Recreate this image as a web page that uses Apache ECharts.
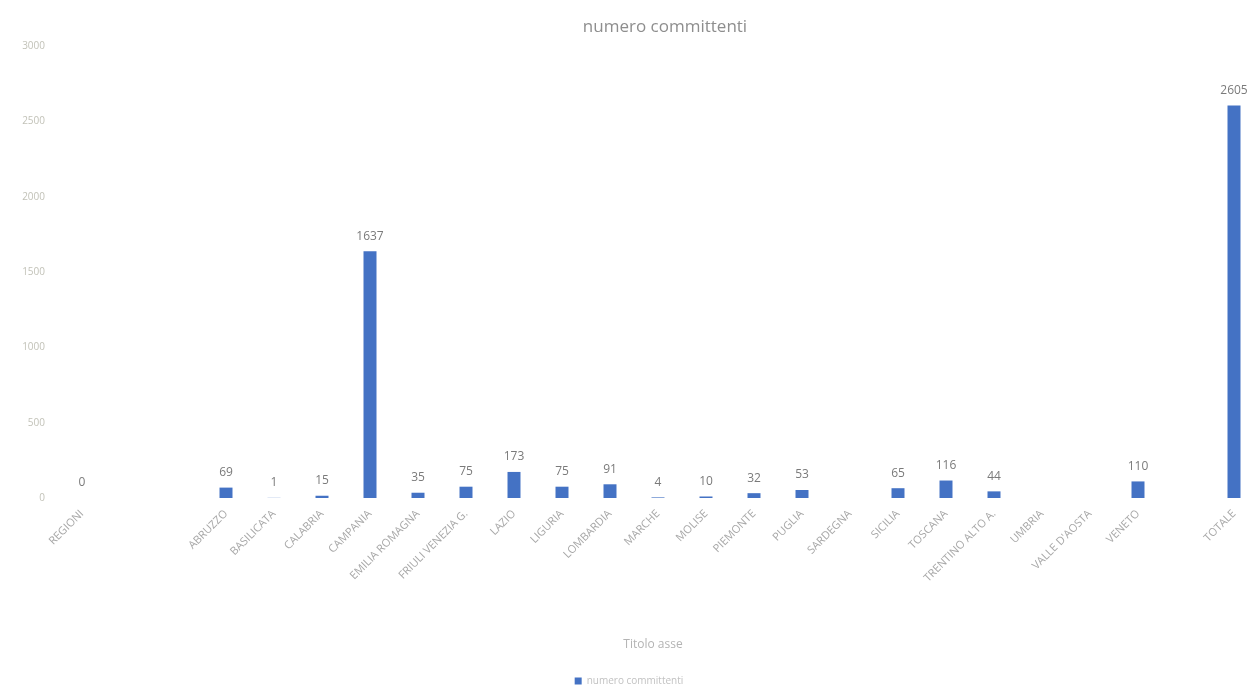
<!DOCTYPE html>
<html>
<head>
<meta charset="utf-8">
<script src="https://cdn.jsdelivr.net/npm/echarts@6/dist/echarts.min.js"></script>
<style>
  html, body { margin: 0; padding: 0; background: #ffffff; }
  #chart { width: 1258px; height: 692px; }
</style>
</head>
<body>
<div id="chart"></div>
<script>
// Regions (empty slots are blank rows in the source table)
const categories = [
  'REGIONI', '', '',
  'ABRUZZO', 'BASILICATA', 'CALABRIA', 'CAMPANIA', 'EMILIA ROMAGNA',
  'FRIULI VENEZIA G.', 'LAZIO', 'LIGURIA', 'LOMBARDIA', 'MARCHE',
  'MOLISE', 'PIEMONTE', 'PUGLIA', 'SARDEGNA', 'SICILIA',
  'TOSCANA', 'TRENTINO ALTO A.', 'UMBRIA', "VALLE D'AOSTA", 'VENETO',
  '', 'TOTALE'
];

// Number of clients per region (null = empty cell)
const committenti = [
  0, null, null,
  69, 1, 15, 1637, 35,
  75, 173, 75, 91, 4,
  10, 32, 53, null, 65,
  116, 44, null, null, 110,
  null, 2605
];

const yTicks = { min: 0, max: 3000, step: 500 };

const chart = echarts.init(document.getElementById('chart'));
chart.setOption({
  backgroundColor: '#ffffff',
  textStyle: { fontFamily: 'Open Sans, sans-serif' },
  title: {
    text: 'numero committenti',
    left: 660,
    top: 14,
    textAlign: 'center',
    textStyle: { color: '#8e8e8e', fontSize: 17, fontWeight: 'normal', fontFamily: 'Open Sans, sans-serif' }
  },
  legend: {
    data: ['numero committenti'],
    left: 'center',
    bottom: 1,
    itemWidth: 7,
    itemHeight: 7,
    icon: 'rect',
    textStyle: { color: '#c2c2c2', fontSize: 10 }
  },
  grid: { left: 58, top: 46, width: 1206, bottom: 194, containLabel: false },
  xAxis: {
    type: 'category',
    data: categories,
    name: 'Titolo asse',
    nameLocation: 'middle',
    nameGap: 141,
    nameTextStyle: { color: '#b4b4b4', fontSize: 12, padding: [0, 0, 0, -10] },
    axisLine: { show: false },
    axisTick: { show: false },
    axisLabel: {
      interval: 0,
      rotate: 45,
      margin: 14,
      color: '#a8a8a8',
      fontSize: 11
    }
  },
  yAxis: {
    type: 'value',
    min: yTicks.min,
    max: yTicks.max,
    interval: yTicks.step,
    axisLine: { show: false },
    axisTick: { show: false },
    splitLine: { show: false },
    axisLabel: { color: '#c2c2b8', fontSize: 10, margin: 13, formatter: v => String(v) }
  },
  series: [{
    name: 'numero committenti',
    type: 'bar',
    data: committenti,
    barWidth: 13,
    itemStyle: { color: '#4472c4' },
    label: {
      show: true,
      position: 'top',
      distance: 9,
      color: '#7a7a7a',
      fontSize: 12
    }
  }]
});
</script>
</body>
</html>
